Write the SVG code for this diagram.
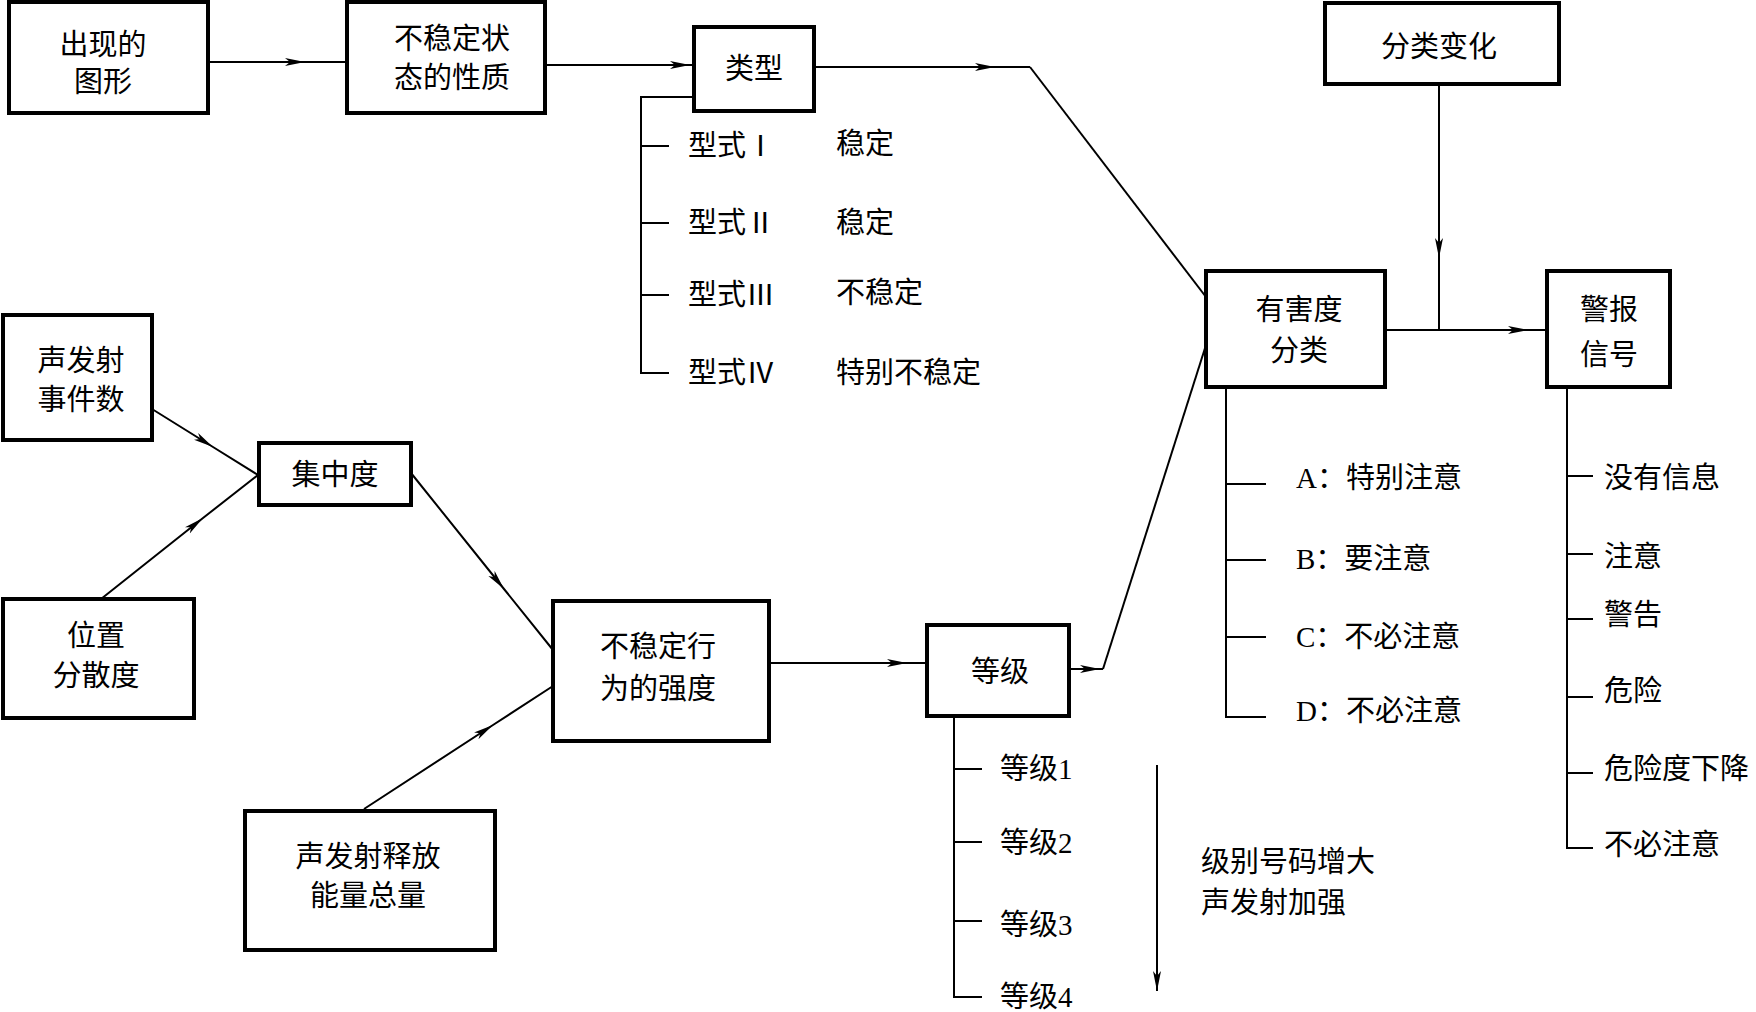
<svg xmlns="http://www.w3.org/2000/svg" width="1756" height="1012" viewBox="0 0 1756 1012">
<style>
.box{fill:#fff;stroke:#000;stroke-width:4}
.ln{fill:none;stroke:#000;stroke-width:2}
.ar{fill:none;stroke:#000;stroke-width:2;marker-mid:url(#ah)}
.ae{fill:none;stroke:#000;stroke-width:2;marker-end:url(#ah)}
text{font-family:"Liberation Serif","Noto Sans CJK SC",serif;font-size:29px;fill:#000;dominant-baseline:central}
.c{text-anchor:middle}
</style>
<defs>
<marker id="ah" viewBox="0 0 20 9" refX="20" refY="4.5" markerWidth="20" markerHeight="9" markerUnits="userSpaceOnUse" orient="auto">
<path d="M0,0.5 L20,4.5 L0,8.5 L5,4.5 Z" fill="#000"/>
</marker>
</defs>
<rect width="1756" height="1012" fill="#fff"/>
<g id="connectors">
<path class="ar" d="M208,62 L305,62 L347,62"/>
<path class="ar" d="M545,65 L690,65 L694,65"/>
<path class="ar" d="M814,67 L995,67 L1030,67"/>
<path class="ln" d="M1030,67 L1206,297"/>
<path class="ar" d="M1439,84 L1439,258 L1439,330"/>
<path class="ar" d="M1385,330 L1528,330 L1547,330"/>
<path class="ar" d="M152,409 L213,447 L258,475"/>
<path class="ar" d="M101,599 L203,518 L258,475"/>
<path class="ar" d="M411,473 L504,589 L553,650"/>
<path class="ar" d="M364,809 L493,725 L553,686"/>
<path class="ar" d="M769,663 L907,663 L927,663"/>
<path class="ar" d="M1069,669 L1100,669 L1103,669"/>
<path class="ln" d="M1103,669 L1206,345"/>
<path class="ae" d="M1157,765 L1157,991"/>
<path class="ln" d="M694,97 L641,97 L641,373 L669,373 M641,146 L669,146 M641,223 L669,223 M641,295 L669,295"/>
<path class="ln" d="M1226,387 L1226,717 L1266,717 M1226,484 L1266,484 M1226,560 L1266,560 M1226,637 L1266,637"/>
<path class="ln" d="M1567,387 L1567,848 L1593,848 M1567,476 L1593,476 M1567,554 L1593,554 M1567,619 L1593,619 M1567,697 L1593,697 M1567,773 L1593,773"/>
<path class="ln" d="M954,716 L954,997 L982,997 M954,769 L982,769 M954,842 L982,842 M954,921 L982,921"/>
</g>
<g id="n1"><rect class="box" x="9" y="2" width="199" height="111"/><text class="c" x="103" y="45">出现的</text><text class="c" x="103" y="82">图形</text></g>
<g id="n2"><rect class="box" x="347" y="2" width="198" height="111"/><text class="c" x="452" y="39">不稳定状</text><text class="c" x="452" y="78">态的性质</text></g>
<g id="n3"><rect class="box" x="694" y="27" width="120" height="84"/><text class="c" x="754" y="69">类型</text></g>
<g id="n3items">
<text x="688" y="146">型式Ⅰ</text><text x="836" y="144">稳定</text>
<text x="688" y="223">型式Ⅱ</text><text x="836" y="223">稳定</text>
<text x="688" y="295">型式Ⅲ</text><text x="836" y="293">不稳定</text>
<text x="688" y="373">型式Ⅳ</text><text x="836" y="373">特别不稳定</text>
</g>
<g id="n4"><rect class="box" x="1325" y="3" width="234" height="81"/><text class="c" x="1439" y="47">分类变化</text></g>
<g id="n5"><rect class="box" x="1206" y="271" width="179" height="116"/><text class="c" x="1299" y="310">有害度</text><text class="c" x="1299" y="351">分类</text></g>
<g id="n5items">
<text x="1296" y="478">A：特别注意</text>
<text x="1296" y="559">B：要注意</text>
<text x="1296" y="637">C：不必注意</text>
<text x="1296" y="711">D：不必注意</text>
</g>
<g id="n6"><rect class="box" x="1547" y="271" width="123" height="116"/><text class="c" x="1609" y="310">警报</text><text class="c" x="1609" y="355">信号</text></g>
<g id="n6items">
<text x="1604" y="478">没有信息</text>
<text x="1604" y="557">注意</text>
<text x="1604" y="615">警告</text>
<text x="1604" y="691">危险</text>
<text x="1604" y="769">危险度下降</text>
<text x="1604" y="845">不必注意</text>
</g>
<g id="n7"><rect class="box" x="3" y="315" width="149" height="125"/><text class="c" x="81" y="361">声发射</text><text class="c" x="81" y="400">事件数</text></g>
<g id="n8"><rect class="box" x="259" y="443" width="152" height="62"/><text class="c" x="335" y="475">集中度</text></g>
<g id="n9"><rect class="box" x="3" y="599" width="191" height="119"/><text class="c" x="96" y="636">位置</text><text class="c" x="96" y="676">分散度</text></g>
<g id="n10"><rect class="box" x="553" y="601" width="216" height="140"/><text class="c" x="658" y="647">不稳定行</text><text class="c" x="658" y="689">为的强度</text></g>
<g id="n11"><rect class="box" x="245" y="811" width="250" height="139"/><text class="c" x="368" y="857">声发射释放</text><text class="c" x="368" y="896">能量总量</text></g>
<g id="n12"><rect class="box" x="927" y="625" width="142" height="91"/><text class="c" x="1000" y="672">等级</text></g>
<g id="n12items">
<text x="1000" y="769">等级1</text>
<text x="1000" y="843">等级2</text>
<text x="1000" y="925">等级3</text>
<text x="1000" y="997">等级4</text>
</g>
<g id="note"><text x="1201" y="862">级别号码增大</text><text x="1201" y="903">声发射加强</text></g>
</svg>
